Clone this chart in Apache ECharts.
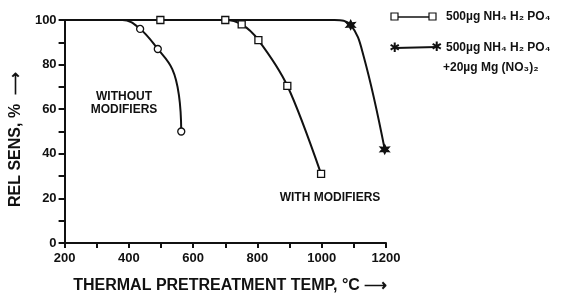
<!DOCTYPE html>
<html>
<head>
<meta charset="utf-8">
<script src="https://cdn.jsdelivr.net/npm/echarts@6/dist/echarts.min.js"></script>
<style>
  html, body { margin: 0; padding: 0; background: #fff; }
  #main { width: 567px; height: 299px; }
</style>
</head>
<body>
<div id="main"></div>
<script>
var chartDom = document.getElementById('main');
var myChart = echarts.init(chartDom);
var option;

const inkColor = '#111';
const fontFamily = 'Liberation Sans, Arial, sans-serif';

// [temp °C, rel sens %, marked?]  (unmarked points only shape the drawn curve)
const withoutModifiers = [[200, 100, 0], [380, 100, 0], [435, 96, 1], [490, 87, 1], [535, 78, 0], [556, 66, 0], [563, 50, 1]];
const phosphateOnly = [[200, 100, 0], [498, 100, 1], [700, 100, 1], [751, 98, 1], [803, 91, 1], [893, 70.5, 1], [998, 31, 1]];
const phosphateMg = [[200, 100, 0], [1040, 100, 0], [1090, 97.8, 1], [1130, 84, 0], [1196, 42, 1]];

const xTickLabels = [200, 400, 600, 800, 1000, 1200];
const yTickLabels = [0, 20, 40, 60, 80, 100];

const starPath = 'path://M0,-10 L2.5,-4.3 L8.7,-5 L5,0 L8.7,5 L2.5,4.3 L0,10 L-2.5,4.3 L-8.7,5 L-5,0 L-8.7,-5 L-2.5,-4.3 Z';

function toData(points, symbol) {
  return points.map(p => ({
    value: [p[0], p[1]],
    symbol: p[2] ? symbol : 'none'
  }));
}

function makeSeries(name, points, symbol, size, fill, smooth) {
  return {
    name: name,
    type: 'line',
    data: toData(points, symbol),
    smooth: smooth,
    symbolSize: size,
    showAllSymbol: true,
    lineStyle: { color: inkColor, width: 2 },
    itemStyle: { color: fill, borderColor: inkColor, borderWidth: 1.3 },
    z: symbol === 'rect' ? 3 : 2
  };
}

const labelStyle = { fontFamily: fontFamily, fontWeight: 'bold', color: inkColor };

option = {
  animation: false,
  backgroundColor: '#fff',
  grid: { left: 63, right: 181, top: 20, bottom: 54 },
  xAxis: {
    type: 'value',
    min: 200,
    max: 1200,
    interval: 100,
    name: 'THERMAL PRETREATMENT TEMP, °C ⟶',
    nameLocation: 'middle',
    nameGap: 35,
    nameTextStyle: Object.assign({ fontSize: 16, padding: [0, 0, 0, 10] }, labelStyle),
    axisLine: { lineStyle: { color: inkColor, width: 2 } },
    axisTick: { length: 5, lineStyle: { color: inkColor, width: 2 } },
    axisLabel: Object.assign({
      fontSize: 13,
      margin: 9,
      formatter: v => xTickLabels.indexOf(v) >= 0 ? String(v) : ''
    }, labelStyle),
    splitLine: { show: false }
  },
  yAxis: {
    type: 'value',
    min: 0,
    max: 100,
    interval: 10,
    name: 'REL SENS, %  ⟶',
    nameLocation: 'middle',
    nameGap: 33,
    nameTextStyle: Object.assign({ fontSize: 16, padding: [0, 16, 0, 0] }, labelStyle),
    axisLine: { show: true, lineStyle: { color: inkColor, width: 2 } },
    axisTick: { show: true, length: 6, lineStyle: { color: inkColor, width: 2 } },
    axisLabel: Object.assign({
      fontSize: 13,
      margin: 8,
      formatter: v => yTickLabels.indexOf(v) >= 0 ? String(v) : ''
    }, labelStyle),
    splitLine: { show: false }
  },
  graphic: [
    // legend
    { type: 'line', shape: { x1: 395, y1: 17, x2: 432, y2: 17 }, style: { stroke: inkColor, lineWidth: 1.5 } },
    { type: 'rect', shape: { x: 391, y: 13, width: 7, height: 7 }, style: { fill: '#fff', stroke: inkColor, lineWidth: 1.2 } },
    { type: 'rect', shape: { x: 429, y: 13, width: 7, height: 7 }, style: { fill: '#fff', stroke: inkColor, lineWidth: 1.2 } },
    { type: 'text', x: 446, y: 17, style: { text: '500µg NH₄ H₂ PO₄', verticalAlign: 'middle', font: 'bold 12px ' + fontFamily, fill: inkColor } },
    { type: 'line', shape: { x1: 395, y1: 48, x2: 437, y2: 47 }, style: { stroke: inkColor, lineWidth: 2 } },
    { type: 'text', x: 395, y: 49, style: { text: '✱', align: 'center', verticalAlign: 'middle', font: 'bold 13px DejaVu Sans', fill: inkColor } },
    { type: 'text', x: 437, y: 48, style: { text: '✱', align: 'center', verticalAlign: 'middle', font: 'bold 13px DejaVu Sans', fill: inkColor } },
    { type: 'text', x: 446, y: 48, style: { text: '500µg NH₄ H₂ PO₄', verticalAlign: 'middle', font: 'bold 12px ' + fontFamily, fill: inkColor } },
    { type: 'text', x: 443, y: 68, style: { text: '+20µg Mg (NO₃)₂', verticalAlign: 'middle', font: 'bold 12px ' + fontFamily, fill: inkColor } },
    // curve annotations
    { type: 'text', x: 124, y: 97, style: { text: 'WITHOUT', align: 'center', verticalAlign: 'middle', font: 'bold 12px ' + fontFamily, fill: inkColor } },
    { type: 'text', x: 124, y: 110, style: { text: 'MODIFIERS', align: 'center', verticalAlign: 'middle', font: 'bold 12px ' + fontFamily, fill: inkColor } },
    { type: 'text', x: 330, y: 198, style: { text: 'WITH MODIFIERS', align: 'center', verticalAlign: 'middle', font: 'bold 12px ' + fontFamily, fill: inkColor } }
  ],
  series: [
    makeSeries('without modifiers', withoutModifiers, 'circle', 7, '#fff', 0.4),
    makeSeries('500µg NH4H2PO4', phosphateOnly, 'rect', 7, '#fff', 0.3),
    makeSeries('500µg NH4H2PO4 +20µg Mg(NO3)2', phosphateMg, starPath, 9, inkColor, 0.4)
  ]
};

option && myChart.setOption(option);
</script>
</body>
</html>
